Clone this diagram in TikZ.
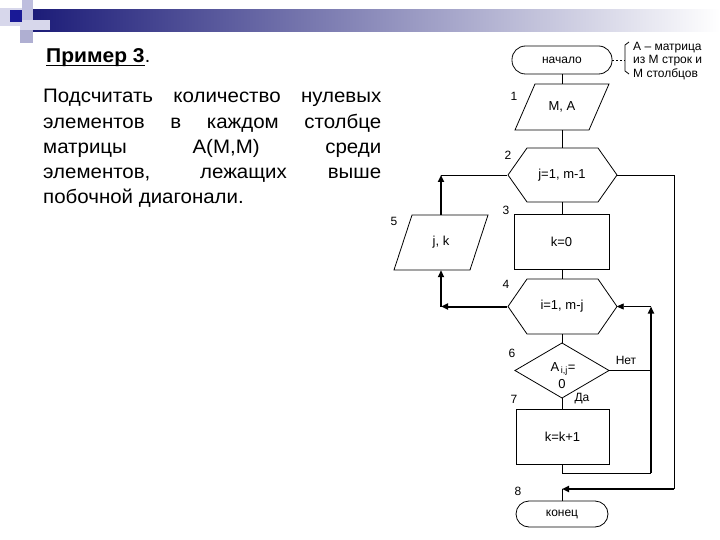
\documentclass[tikz,border=0pt]{standalone}
\usepackage{fontspec}
\setmainfont{Liberation Sans}
\usetikzlibrary{arrows.meta}
\definecolor{navy}{RGB}{28,28,120}
\definecolor{midslate}{RGB}{150,150,185}
\definecolor{lavA}{RGB}{215,215,235}
\definecolor{lavB}{RGB}{190,190,222}
\definecolor{lavC}{RGB}{175,175,210}
\definecolor{darksq}{RGB}{25,25,150}
\newcommand{\wideline}[1]{\scalebox{1.05}[1]{\makebox[322pt][s]{#1}}}
\newcommand{\widetext}[1]{\scalebox{1.05}[1]{#1}}
\tikzset{
  shp/.style={draw, line width=0.8pt},
  thinln/.style={line width=0.8pt},
  thickln/.style={line width=2pt},
  arr/.style={-{Triangle[length=7pt,width=6pt]}},
  helper/.style={inner sep=0pt, font=\fontsize{13}{15}\selectfont},
  numlbl/.style={inner sep=0pt, font=\fontsize{12}{14}\selectfont},
  bodyline/.style={anchor=base west, inner sep=0pt, font=\fontsize{19.5}{22}\selectfont},
  note/.style={anchor=west, inner sep=0pt, font=\fontsize{12}{14}\selectfont},
}
\begin{document}
\begin{tikzpicture}[x=1pt,y=-1pt]
\useasboundingbox (0,0) rectangle (720,540);
\fill[white] (0,0) rectangle (720,540);
% banner
\shade[left color=navy, middle color=midslate, right color=white] (33,10) rectangle (720,32);
\fill[lavA] (0,8) rectangle (22,26);
\fill[lavB] (22,0) rectangle (33,20);
\fill[lavA] (20,20) rectangle (50,30);
\fill[lavC] (20,30) rectangle (33,43);
\fill[darksq] (10,10) rectangle (22,22);
% title and task
\node[bodyline, font=\fontsize{20}{22}\selectfont\bfseries] (title) at (46,63) {\widetext{Пример 3}};
\draw[line width=1.3pt] ([yshift=-2.3pt]title.base west) -- ([yshift=-2.3pt]title.base east);
\node[bodyline] (dot) at (title.base east) {.};
\node[bodyline] (l1) at (43,103) {\wideline{Подсчитать количество нулевых}};
\node[bodyline] (l2) at (43,128.3) {\wideline{элементов в каждом столбце}};
\node[bodyline] (l3) at (43,153.5) {\wideline{матрицы A(M,M) среди}};
\node[bodyline] (l4) at (43,178.8) {\wideline{элементов, лежащих выше}};
\node[bodyline] (l5) at (43,204) {\widetext{побочной диагонали.}};
% flowchart shapes
\node[shp, rounded corners=13.5pt, minimum width=100pt, minimum height=28pt, inner sep=0pt, font=\fontsize{12}{14}\selectfont] (start) at (562,60) {начало};
\node[helper, minimum width=94pt, minimum height=46pt] (io) at (562,107) {M, A};
\draw[shp] (515,130) -- (535,84) -- (609,84) -- (589,130) -- cycle;
\node[helper, minimum width=109pt, minimum height=54pt] (hex1) at (562,175) {j=1, m-1};
\draw[shp] (508,175) -- (527,148) -- (598,148) -- (617,175) -- (598,202) -- (527,202) -- cycle;
\node[shp, helper, minimum width=95pt, minimum height=55pt] (k0) at (561.5,241.5) {k=0};
\node[helper, minimum width=94pt, minimum height=55pt] (jk) at (441,242.5) {j, k};
\draw[shp] (394,270) -- (412,215) -- (488,215) -- (470,270) -- cycle;
\node[helper, minimum width=109pt, minimum height=55pt] (hex2) at (562,306.5) {i=1, m-j};
\draw[shp] (508,306.5) -- (527,279) -- (598,279) -- (617,306.5) -- (598,334) -- (527,334) -- cycle;
\node[inner sep=0pt, minimum width=94pt, minimum height=55pt] (dia) at (562,370.5) {};
\draw[shp] (515,370.5) -- (562,343) -- (609,370.5) -- (562,398) -- cycle;
\node[helper] (dtxt1) at (563,369) {A\textsubscript{\,i,j}=};
\node[helper] (dtxt2) at (562,384) {0};
\node[shp, helper, minimum width=93pt, minimum height=55pt] (inc) at (562.5,436.5) {k=k+1};
\node[shp, rounded corners=13pt, minimum width=92pt, minimum height=26pt, inner sep=0pt, font=\fontsize{12}{14}\selectfont] (end) at (562,514) {конец};
% numbers
\node[numlbl] (n1) at (514,96) {1};
\node[numlbl] (n2) at (508,155) {2};
\node[numlbl] (n3) at (506,210) {3};
\node[numlbl] (n4) at (506,284) {4};
\node[numlbl] (n5) at (394,221) {5};
\node[numlbl] (n6) at (512,353) {6};
\node[numlbl] (n7) at (514,399) {7};
\node[numlbl] (n8) at (518,491) {8};
\node[numlbl] (no) at (626,360) {Нет};
\node[numlbl] (yes) at (582,399) {Да};
% annotation
\draw[thinln, dash pattern=on 2pt off 2pt] (start.east) -- (625,60);
\draw[thinln] (629,42) -- (625,45) -- (625,71) -- (629,74);
\node[note] (a1) at (633,48) {А – матрица};
\node[note] (a2) at (633,61) {из М строк и};
\node[note] (a3) at (633,74) {М столбцов};
% coordinates
\coordinate (c1) at (441,175);
\coordinate (c2) at (441,306.5);
\coordinate (r1) at (674,175);
\coordinate (r2) at (674,489);
\coordinate (r3) at (562,489);
\coordinate (q1) at (562,473);
\coordinate (q2) at (651,473);
\coordinate (q3) at (651,306.5);
% straight connectors
\draw[thinln] (start.south) -- (io.north);
\draw[thinln] (io.south) -- (hex1.north);
\draw[thinln] (hex1.south) -- (k0.north -| hex1.south);
\draw[thinln] (k0.south -| hex2.north) -- (hex2.north);
\draw[thinln] (hex2.south) -- (dia.north);
\draw[thinln] (dia.south) -- (inc.north -| dia.south);
% outer loop exit
\draw[thickln, arr] (hex2.west) -- (c2);
\draw[thickln, arr] (c2) -- (jk.south);
\draw[thickln, arr] (jk.north) -- (c1);
\draw[thinln] (c1) -- (hex1.west);
\draw[thinln] (hex1.east) -- (r1) -- (r2);
\draw[thickln, arr] (r2) -- (r3);
\draw[thinln] (r3) -- (end.north);
% inner loop
\draw[thinln] (inc.south -| q1) -- (q1) -- (q2);
\draw[thickln, arr] (q2) -- (q3);
\draw[thinln, arr] (q3) -- (hex2.east);
\draw[thinln] (dia.east) -- (dia.east -| q2);
\end{tikzpicture}
\end{document}
